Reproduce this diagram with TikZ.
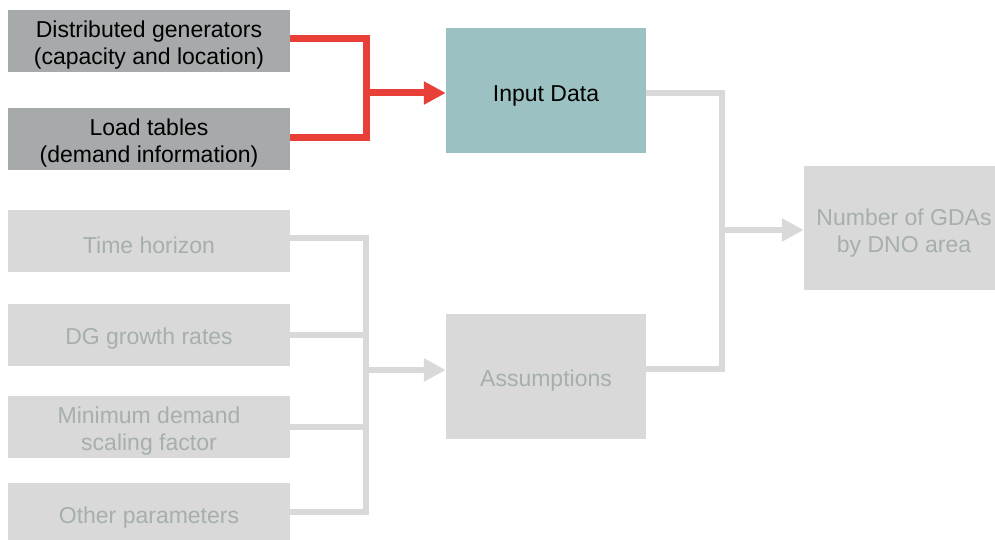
\documentclass[tikz,border=0pt]{standalone}
\usepackage{fontspec}
\setmainfont{Liberation Sans}
\usetikzlibrary{arrows.meta}
\definecolor{darkbox}{RGB}{166,170,171}
\definecolor{tealbox}{RGB}{156,193,194}
\definecolor{lightbox}{RGB}{217,217,217}
\definecolor{fadetext}{RGB}{166,174,174}
\definecolor{redline}{RGB}{232,64,56}
\begin{document}
\begin{tikzpicture}[x=1pt,y=-1pt,
  boxbase/.style={rectangle, inner sep=0pt},
  txt/.style={align=center, inner sep=0pt, font=\fontsize{23}{27}\selectfont, yshift=-4pt},
  darktxt/.style={txt, text=black},
  fadetxt/.style={txt, text=fadetext},
  darkbx/.style={boxbase, fill=darkbox, minimum width=282pt, minimum height=62pt},
  lightbx/.style={boxbase, fill=lightbox, minimum width=282pt, minimum height=62pt},
  bigbx/.style={boxbase, minimum width=200pt, minimum height=125pt},
  redconn/.style={draw=redline, line width=7pt},
  grayconn/.style={draw=lightbox, line width=6.5pt},
  redarrow/.style={redconn, -{Triangle[length=22pt,width=22pt]}},
  grayarrow/.style={grayconn, -{Triangle[length=22pt,width=22pt]}}
]
\useasboundingbox (0,0) rectangle (995,540);
\node[darkbx, label={[darktxt]center:{Distributed generators\\(capacity and location)}}] (dg) at (149,41) {};
\node[darkbx, label={[darktxt]center:{Load tables\\(demand information)}}] (load) at (149,139) {};
\node[bigbx, fill=tealbox, label={[darktxt,yshift=-1pt]center:{Input Data}}] (input) at (546,90.5) {};
\node[lightbx, label={[fadetxt]center:{Time horizon}}] (time) at (149,241) {};
\node[lightbx, label={[fadetxt]center:{DG growth rates}}] (growth) at (149,335) {};
\node[lightbx, label={[fadetxt]center:{Minimum demand\\scaling factor}}] (mindem) at (149,427) {};
\node[lightbx, label={[fadetxt]center:{Other parameters}}] (other) at (149,514) {};
\node[bigbx, fill=lightbox, label={[fadetxt,yshift=-1pt]center:{Assumptions}}] (assump) at (546,376) {};
\node[boxbase, fill=lightbox, minimum width=200pt, minimum height=124pt, label={[fadetxt,yshift=-1pt]center:{Number of GDAs\\by DNO area}}] (gda) at (904,228) {};

\coordinate (rj) at (366,93);
\coordinate (gj) at (366,370);
\coordinate (oj) at (722,230);

\draw[redconn] ([yshift=2.5pt]dg.east) -| (rj) |- ([yshift=1.5pt]load.east);
\draw[redarrow] (rj) -- (rj -| input.west);

\draw[grayconn] ([yshift=3pt]time.east) -| (gj) |- ([yshift=2pt]other.east);
\draw[grayconn] (growth.east) -- (growth.east -| gj);
\draw[grayconn] (mindem.east) -- (mindem.east -| gj);
\draw[grayarrow] (gj) -- (gj -| assump.west);

\draw[grayconn] ([yshift=-2.5pt]input.east) -| (oj) |- ([yshift=7pt]assump.east);
\draw[grayarrow] (oj) -- (oj -| gda.west);
\end{tikzpicture}
\end{document}
